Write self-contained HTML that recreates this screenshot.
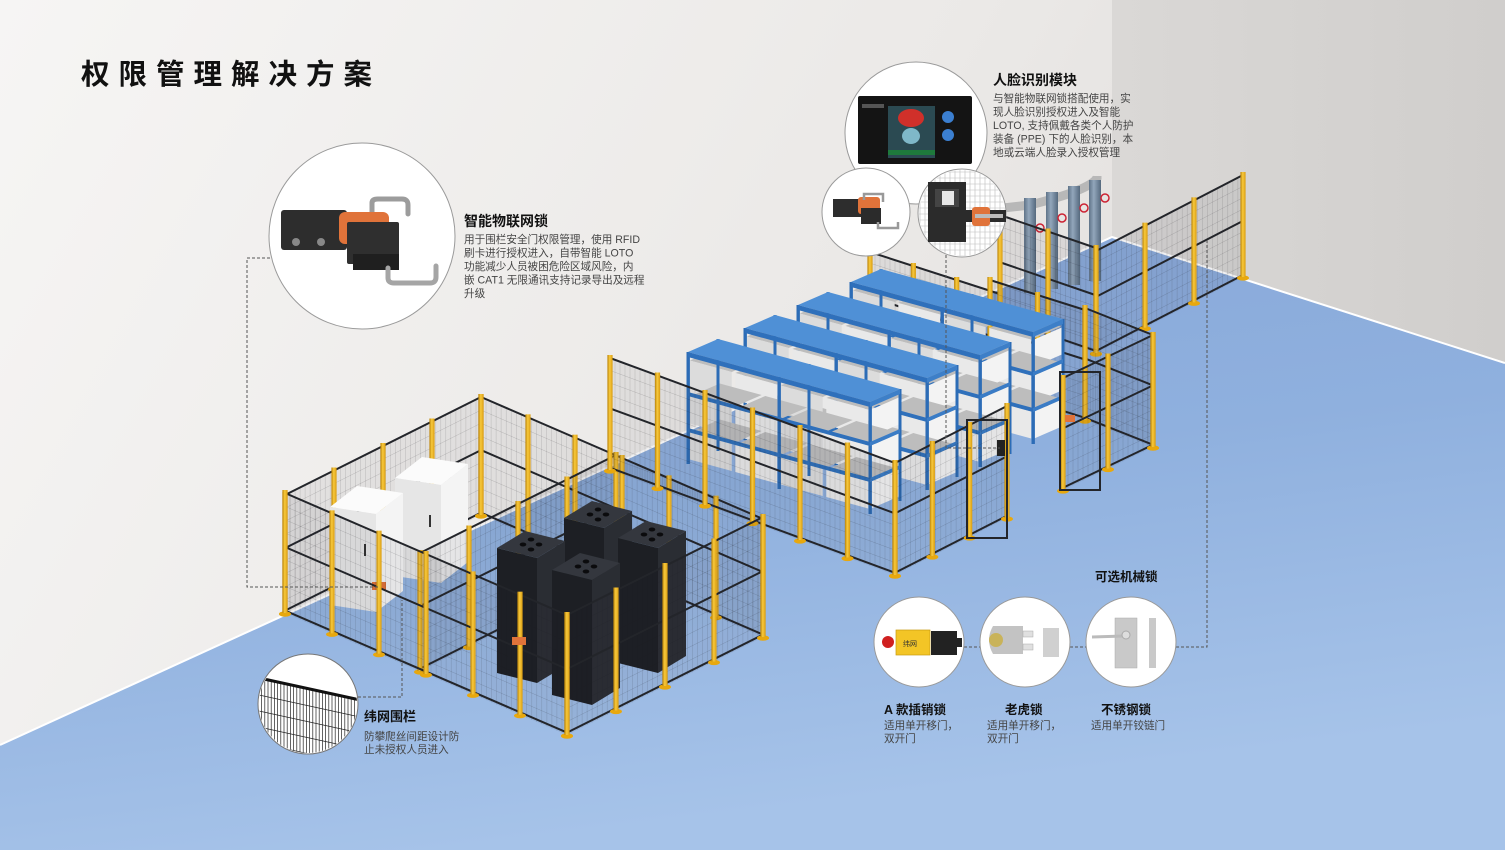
<!DOCTYPE html>
<html><head><meta charset="utf-8">
<style>
html,body{margin:0;padding:0;width:1505px;height:850px;overflow:hidden;background:#eeeceb}
svg{display:block}
text{font-family:"Liberation Sans","Noto Sans CJK SC",sans-serif}
.h{font-weight:bold;fill:#111}
.b{fill:#444;font-size:10.6px}
</style></head><body>
<svg id="s" width="1505" height="850" viewBox="0 0 1505 850" xmlns="http://www.w3.org/2000/svg">
<defs>
<linearGradient id="lw" x1="0" y1="0" x2="1" y2="0.3">
<stop offset="0" stop-color="#f6f5f4"/><stop offset="0.6" stop-color="#ebe9e7"/><stop offset="1" stop-color="#dedbd9"/></linearGradient>
<linearGradient id="rw" x1="0" y1="0" x2="1" y2="0">
<stop offset="0" stop-color="#dad8d6"/><stop offset="1" stop-color="#d0cecc"/></linearGradient>
<linearGradient id="fl" x1="0" y1="0" x2="0.3" y2="1">
<stop offset="0" stop-color="#86a6d8"/><stop offset="0.5" stop-color="#8fb0de"/><stop offset="1" stop-color="#a6c3e9"/></linearGradient>
<linearGradient id="post" x1="0" y1="0" x2="1" y2="0">
<stop offset="0" stop-color="#b98208"/><stop offset="0.45" stop-color="#f8c93c"/><stop offset="1" stop-color="#d99c12"/></linearGradient>
<linearGradient id="pipe" x1="0" y1="0" x2="1" y2="0">
<stop offset="0" stop-color="#5f7388"/><stop offset="0.4" stop-color="#92a6bb"/><stop offset="1" stop-color="#55697e"/></linearGradient>
<clipPath id="cm"><circle cx="308" cy="704" r="49"/></clipPath>
</defs>
<rect x="0" y="0" width="1505" height="850" fill="url(#lw)"/>
<polygon points="1112,0 1505,0 1505,363 1112,237" fill="url(#rw)"/>
<polygon points="0,745 1112,237 1505,363 1505,850 0,850" fill="url(#fl)"/>
<polyline points="0,745 1112,237 1505,363" fill="none" stroke="#fff" stroke-width="2"/>
<g id="scene"></g>

<g fill="none" stroke="#555" stroke-width="1" stroke-dasharray="3,2">
<polyline points="270,258 247,258 247,587 380,587"/>
<polyline points="358,697 402,697 402,600"/>
<polyline points="946,205 946,448 1000,448"/>
<line x1="964" y1="647" x2="980" y2="647"/>
<line x1="1070" y1="647" x2="1086" y2="647"/>
<polyline points="1176,647 1207,647 1207,238"/>
</g>

<circle cx="362" cy="236" r="93" fill="#fff" stroke="#9a9a9a" stroke-width="1"/>
<path d="M372,212 L372,203 Q372,199 378,199 L402,199 Q408,199 408,205 L408,214" fill="none" stroke="#9c9c9c" stroke-width="5" stroke-linecap="round"/>
<rect x="281" y="210" width="66" height="40" rx="3" fill="#2d2d2d"/>
<circle cx="296" cy="242" r="4" fill="#888"/><circle cx="321" cy="242" r="4" fill="#888"/>
<rect x="339" y="212" width="50" height="32" rx="6" fill="#e0733a"/>
<rect x="347" y="222" width="52" height="42" rx="2" fill="#2f2f2f"/>
<rect x="353" y="254" width="46" height="16" fill="#1f1f1f"/>
<path d="M388,268 L388,278 Q388,283 394,283 L430,283 Q436,283 436,277 L436,266" fill="none" stroke="#a5a5a5" stroke-width="5" stroke-linecap="round"/>

<circle cx="916" cy="133" r="71" fill="#fff" stroke="#9a9a9a"/>
<rect x="858" y="96" width="114" height="68" rx="2" fill="#141414"/>
<rect x="888" y="106" width="47" height="52" fill="#2b4a52"/>
<ellipse cx="911" cy="118" rx="13" ry="9" fill="#d0302a"/>
<ellipse cx="911" cy="136" rx="9" ry="8" fill="#7fb8c8"/>
<rect x="888" y="150" width="47" height="5" fill="#1e7a3c"/>
<circle cx="948" cy="117" r="6" fill="#3b7fd0"/><circle cx="948" cy="135" r="6" fill="#3b7fd0"/>
<rect x="862" y="104" width="22" height="4" fill="#555"/>

<circle cx="866" cy="212" r="44" fill="#fff" stroke="#9a9a9a"/>
<rect x="833" y="199" width="30" height="18" fill="#2d2d2d"/>
<rect x="858" y="197" width="22" height="17" rx="3" fill="#e0733a"/>
<rect x="861" y="208" width="20" height="16" fill="#2b2b2b"/>
<path d="M864,200 L864,194 L883,194 L883,202" fill="none" stroke="#999" stroke-width="2.5"/>
<path d="M878,222 L878,228 L898,228 L898,222" fill="none" stroke="#999" stroke-width="2.5"/>

<circle cx="962" cy="213" r="44" fill="#fff" stroke="#9a9a9a"/>
<g id="gm"></g>
<rect x="928" y="182" width="38" height="60" fill="#2b2b2b"/>
<rect x="935" y="189" width="24" height="18" fill="#444"/>
<rect x="942" y="191" width="12" height="14" fill="#e8e8e8"/>
<rect x="966" y="210" width="40" height="12" fill="#2b2b2b"/>
<rect x="972" y="207" width="18" height="19" rx="3" fill="#e0733a"/>
<rect x="975" y="214" width="28" height="4" fill="#bbb"/>

<circle cx="308" cy="704" r="50" fill="#fff" stroke="#777"/>
<g clip-path="url(#cm)" id="mesh"></g>

<circle cx="919" cy="642" r="45" fill="#fff" stroke="#999"/>
<rect x="896" y="630" width="34" height="25" fill="#f3c526" stroke="#c79a10" stroke-width="0.7"/>
<text x="903" y="646" font-size="7" fill="#333">纬网</text>
<rect x="931" y="631" width="26" height="24" fill="#222"/>
<rect x="948" y="638" width="14" height="9" fill="#222"/>
<circle cx="888" cy="642" r="6" fill="#d02020"/>
<circle cx="1025" cy="642" r="45" fill="#fff" stroke="#999"/>
<path d="M993,626 L1023,626 L1023,654 L993,654 Q985,640 993,626Z" fill="#c3c3c3"/>
<circle cx="996" cy="640" r="7" fill="#c9b35a"/>
<rect x="1023" y="631" width="10" height="6" fill="#e0e0e0" stroke="#aaa" stroke-width="0.5"/>
<rect x="1023" y="644" width="10" height="6" fill="#e0e0e0" stroke="#aaa" stroke-width="0.5"/>
<rect x="1043" y="628" width="16" height="29" fill="#d0d0d0"/>
<circle cx="1131" cy="642" r="45" fill="#fff" stroke="#999"/>
<rect x="1115" y="618" width="22" height="50" fill="#c9c9c9" stroke="#aaa" stroke-width="0.5"/>
<rect x="1149" y="618" width="7" height="50" fill="#c9c9c9"/>
<line x1="1092" y1="637" x2="1124" y2="636" stroke="#bbb" stroke-width="3"/>
<circle cx="1126" cy="635" r="4" fill="#ddd" stroke="#aaa"/>

<text x="81" y="84" class="h" font-size="28.5" letter-spacing="9">权限管理解决方案</text>
<text x="464" y="226" class="h" font-size="14">智能物联网锁</text>
<text class="b"><tspan x="464" y="243">用于围栏安全门权限管理，使用 RFID</tspan><tspan x="464" y="256.5">刷卡进行授权进入，自带智能 LOTO</tspan><tspan x="464" y="270">功能减少人员被困危险区域风险，内</tspan><tspan x="464" y="283.5">嵌 CAT1 无限通讯支持记录导出及远程</tspan><tspan x="464" y="297">升级</tspan></text>
<text x="993" y="85" class="h" font-size="14">人脸识别模块</text>
<text class="b"><tspan x="993" y="102">与智能物联网锁搭配使用，实</tspan><tspan x="993" y="115.5">现人脸识别授权进入及智能</tspan><tspan x="993" y="129">LOTO, 支持佩戴各类个人防护</tspan><tspan x="993" y="142.5">装备 (PPE) 下的人脸识别，本</tspan><tspan x="993" y="156">地或云端人脸录入授权管理</tspan></text>
<text x="364" y="721" class="h" font-size="13">纬网围栏</text>
<text class="b"><tspan x="364" y="740">防攀爬丝间距设计防</tspan><tspan x="364" y="753">止未授权人员进入</tspan></text>
<text x="1095" y="581" class="h" font-size="12.5">可选机械锁</text>
<text x="884" y="714" class="h" font-size="12.5">A 款插销锁</text>
<text class="b"><tspan x="884" y="729">适用单开移门，</tspan><tspan x="884" y="742">双开门</tspan></text>
<text x="1005" y="714" class="h" font-size="12.5">老虎锁</text>
<text class="b"><tspan x="987" y="729">适用单开移门，</tspan><tspan x="987" y="742">双开门</tspan></text>
<text x="1101" y="714" class="h" font-size="12.5">不锈钢锁</text>
<text class="b"><tspan x="1091" y="729">适用单开铰链门</tspan></text>
</svg>
<script>
var S='';
function P(a){return a.map(function(p){return p[0].toFixed(1)+','+p[1].toFixed(1)}).join(' ')}
function fence(x1,y1,x2,y2,n,h){
 var s='<polygon points="'+P([[x1,y1],[x2,y2],[x2,y2-h],[x1,y1-h]])+'" fill="rgba(40,45,60,0.07)"/>';
 var len=Math.abs(x2-x1),m=Math.floor(len/5);
 for(var i=1;i<m;i++){var t=i/m,x=x1+(x2-x1)*t,y=y1+(y2-y1)*t;s+='<line x1="'+x.toFixed(1)+'" y1="'+y.toFixed(1)+'" x2="'+x.toFixed(1)+'" y2="'+(y-h).toFixed(1)+'" stroke="rgba(30,30,35,0.2)" stroke-width="0.5"/>';}
 for(var k=1;k<9;k++){var o=h*k/9;s+='<line x1="'+x1+'" y1="'+(y1-o)+'" x2="'+x2+'" y2="'+(y2-o)+'" stroke="rgba(30,30,35,0.22)" stroke-width="0.5"/>';}
 [0.02,0.55,1].forEach(function(f){var o=h*f;s+='<line x1="'+x1+'" y1="'+(y1-o)+'" x2="'+x2+'" y2="'+(y2-o)+'" stroke="#23252a" stroke-width="2"/>';});
 for(var j=0;j<=n;j++){var t=j/n,px=x1+(x2-x1)*t,py=y1+(y2-y1)*t;
  s+='<ellipse cx="'+px+'" cy="'+(py+1)+'" rx="6" ry="2.6" fill="#e8a80e"/>';
  s+='<rect x="'+(px-2.6)+'" y="'+(py-h-3)+'" width="5.2" height="'+(h+3)+'" fill="url(#post)"/>';}
 S+=s;}
function shelf(x,y){
 var L=[182,50],d=[30,-13],H=112,s='';
 for(var k=0;k<3;k++){var yo=8+k*36;
  for(var b=0;b<4;b++){var t0=b/4+0.01,t1=(b+1)/4-0.01;
   var a=[x+L[0]*t0,y+L[1]*t0+yo],c=[x+L[0]*t1,y+L[1]*t1+yo];
   s+='<polygon points="'+P([[a[0]+d[0],a[1]+d[1]],[c[0]+d[0],c[1]+d[1]],c,a])+'" fill="#bdbdbd"/>';
   s+='<polygon points="'+P([a,c,[c[0],c[1]+27],[a[0],a[1]+27]])+'" fill="'+(b%2?'#e9e9e9':'#dcdcdc')+'"/>';}
  var e=[x+L[0],y+L[1]+yo];
  s+='<polygon points="'+P([e,[e[0]+d[0],e[1]+d[1]],[e[0]+d[0],e[1]+d[1]+27],[e[0],e[1]+27]])+'" fill="#f3f3f3"/>';}
 [[0,0],[1,0],[0.5,0]].forEach(function(f){var lx=x+L[0]*f[0],ly=y+L[1]*f[0];
  s+='<rect x="'+(lx-1.5)+'" y="'+ly+'" width="3.4" height="'+H+'" fill="#2c6cb6"/>';
  s+='<rect x="'+(lx+d[0]-1.5)+'" y="'+(ly+d[1])+'" width="3" height="'+H+'" fill="#2c6cb6"/>';});
 for(var k=1;k<3;k++){var yo=k*36+4;
  s+='<polygon points="'+P([[x,y+yo],[x+L[0],y+L[1]+yo],[x+L[0],y+L[1]+yo+4],[x,y+yo+4]])+'" fill="#2f70bb"/>';
  s+='<polygon points="'+P([[x+L[0],y+L[1]+yo],[x+L[0]+d[0],y+L[1]+d[1]+yo],[x+L[0]+d[0],y+L[1]+d[1]+yo+4],[x+L[0],y+L[1]+yo+4]])+'" fill="#3a7cc6"/>';}
 s+='<polygon points="'+P([[x,y],[x+d[0],y+d[1]],[x+d[0]+L[0],y+d[1]+L[1]],[x+L[0],y+L[1]]])+'" fill="#4f90d6"/>';
 s+='<polygon points="'+P([[x,y],[x+L[0],y+L[1]],[x+L[0],y+L[1]+5],[x,y+5]])+'" fill="#2f70bb"/>';
 s+='<polygon points="'+P([[x+L[0],y+L[1]],[x+L[0]+d[0],y+L[1]+d[1]],[x+L[0]+d[0],y+L[1]+d[1]+5],[x+L[0],y+L[1]+5]])+'" fill="#3d7fc8"/>';
 S+=s;}
function cab(x,y){var a=[28,-17],b=[40,10],H=125,s='';
 var T=[x,y],A=[x+a[0],y+a[1]],B=[x+b[0],y+b[1]],C=[x+a[0]+b[0],y+a[1]+b[1]];
 s+='<polygon points="'+P([T,B,[B[0],B[1]+H],[T[0],T[1]+H]])+'" fill="#1d1f24"/>';
 s+='<polygon points="'+P([B,C,[C[0],C[1]+H],[B[0],B[1]+H]])+'" fill="#2a2d33"/>';
 s+='<polygon points="'+P([T,A,C,B])+'" fill="#34373e"/>';
 var cx=x+(a[0]+b[0])/2,cy=y+(a[1]+b[1])/2;
 [[-8,0],[8,0],[0,-5],[0,5]].forEach(function(o){s+='<ellipse cx="'+(cx+o[0])+'" cy="'+(cy+o[1])+'" rx="3.3" ry="2" fill="#0b0b0d"/>';});
 S+=s;}
function wcab(x,y,H){var a=[27,-21],b=[46,7],s='';
 var T=[x,y],A=[x+a[0],y+a[1]],B=[x+b[0],y+b[1]],C=[x+a[0]+b[0],y+a[1]+b[1]];
 s+='<polygon points="'+P([T,B,[B[0],B[1]+H],[T[0],T[1]+H]])+'" fill="#e6e6e6"/>';
 s+='<polygon points="'+P([B,C,[C[0],C[1]+H],[B[0],B[1]+H]])+'" fill="#f4f4f4"/>';
 s+='<polygon points="'+P([T,A,C,B])+'" fill="#fbfbfb"/>';
 s+='<rect x="'+(B[0]-12)+'" y="'+(B[1]+30)+'" width="2" height="12" fill="#333"/>';
 S+=s;}
S+='<path d="M1003,208 L1030,205 Q1090,190 1097,178 L1097,176" fill="none" stroke="#b8b8b8" stroke-width="9"/>';
[1030,1052,1074,1095].forEach(function(x,i){S+='<rect x="'+(x-6)+'" y="'+(198-i*6)+'" width="12" height="'+(95+i*2)+'" fill="url(#pipe)"/><circle cx="'+(x+10)+'" cy="'+(228-i*10)+'" r="4" fill="none" stroke="#c23" stroke-width="1.5"/>';});
fence(1000,320,1096,353,2,105);
fence(1096,353,1243,277,3,102);
fence(870,352,1000,394,3,100);
fence(990,390,1085,420,2,110);
fence(1085,420,1153,447,1,112);
fence(481,515,763,637,6,118);
fence(285,613,481,515,4,118);
wcab(395,478,98);wcab(330,507,98);
S+='<rect x="372" y="582" width="14" height="8" fill="#e0733a"/>';
fence(420,671,616,573,4,118);
shelf(851,282);shelf(798,305);shelf(745,328);shelf(688,352);
fence(610,470,895,575,6,112);
fence(895,575,1007,518,3,112);
S+='<rect x="967" y="420" width="40" height="118" fill="none" stroke="#23252a" stroke-width="2"/><rect x="997" y="440" width="8" height="16" fill="#222"/>';
fence(1063,490,1153,447,2,112);
S+='<rect x="1060" y="372" width="40" height="118" fill="none" stroke="#23252a" stroke-width="2"/><rect x="1065" y="415" width="10" height="7" fill="#e0733a"/>';
cab(564,518);cab(497,548);cab(618,538);cab(552,570);
fence(285,613,567,735,6,120);
fence(567,735,763,637,4,120);
S+='<rect x="512" y="637" width="14" height="8" fill="#e0733a"/>';
document.getElementById('scene').innerHTML=S;
var m='<polygon points="250,676 360,700 360,760 250,760" fill="#fff"/>';
for(var x=252;x<362;x+=3.2){m+='<line x1="'+x+'" y1="'+(676+(x-250)*0.22)+'" x2="'+x+'" y2="760" stroke="#222" stroke-width="0.7"/>';}
for(var k=0;k<4;k++){m+='<line x1="250" y1="'+(693+k*16)+'" x2="360" y2="'+(717+k*16)+'" stroke="#222" stroke-width="0.7"/>';}
m+='<line x1="250" y1="676" x2="360" y2="700" stroke="#111" stroke-width="3"/>';
document.getElementById('mesh').innerHTML=m;
var g='';for(var x=920;x<1008;x+=5){g+='<line x1="'+x+'" y1="170" x2="'+x+'" y2="258" stroke="#bbb" stroke-width="0.6"/>';}
for(var y=172;y<258;y+=6){g+='<line x1="918" y1="'+y+'" x2="1006" y2="'+y+'" stroke="#bbb" stroke-width="0.6"/>';}
document.getElementById('gm').innerHTML='<clipPath id="cg"><circle cx="962" cy="213" r="43"/></clipPath><g clip-path="url(#cg)">'+g+'</g>';
</script>
</body></html>
